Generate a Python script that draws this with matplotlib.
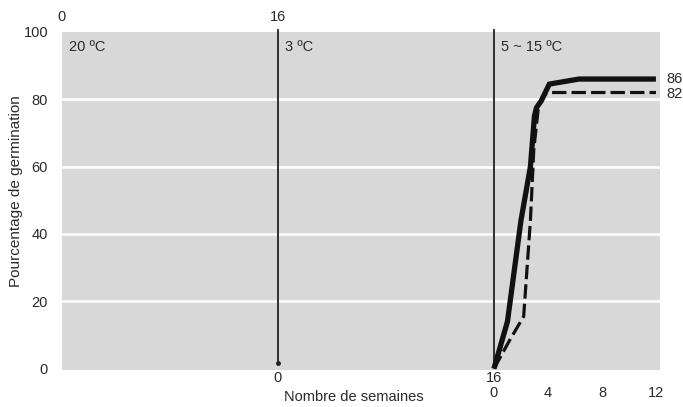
import matplotlib
matplotlib.use('Agg')
import matplotlib.pyplot as plt
import matplotlib.transforms as mtransforms

plt.rcParams['font.family'] = ['Liberation Sans', 'DejaVu Sans']

# phases (weeks): 20 C for 16 weeks, 3 C for 16 weeks, then 5~15 C
phase_starts = [0, 16, 32]
phase_labels = ['20 ºC', '3 ºC', '5 ~ 15 ºC']
top_ticks = [0, 16]
top_tick_labels = ['0', '16']
bottom_ticks = [16, 32]
bottom_tick_labels = ['0', '16']
last_ticks = [0, 4, 8, 12]

# germination in the last phase (weeks since start of phase)
solid_weeks = [0, 1.0, 2.0, 2.7, 3.0, 3.15, 3.5, 4.1, 6.3, 12]
solid_pct = [0, 14, 44, 60, 75, 77.5, 79.5, 84.5, 86, 86]
dashed_weeks = [0, 1.1, 2.2, 2.7, 2.95, 3.3, 3.9, 12]
dashed_pct = [0, 8, 15.5, 44, 65, 78, 82, 82]

yticks = [0, 20, 40, 60, 80, 100]

fs = 10.5
txt = '#2a2a2a'

fig = plt.figure(figsize=(6.83, 4.07), dpi=100)
ax = fig.add_axes([62 / 683, 1 - 370 / 407, (660 - 62) / 683, (370 - 31.9) / 407])
ax.set_facecolor('#d8d8d8')
ax.set_xlim(0, 44.3)
ax.set_ylim(-0.4, 100)
for s in ax.spines.values():
    s.set_visible(False)

for y in yticks[1:-1]:
    ax.axhline(y, color='white', lw=1.8, zorder=1)

for i, x0 in enumerate(phase_starts):
    if x0 > 0:
        ax.plot([x0, x0], [1.5, 100.5], color='#222222', lw=1.3, zorder=2, clip_on=False)
    ax.text(x0 + 0.5, 95.5, phase_labels[i], fontsize=fs, color=txt, va='center', ha='left')
ax.plot([16], [1.8], 'o', color='#222222', ms=2.5)

start = phase_starts[-1]
ax.plot([start + w for w in solid_weeks], solid_pct, color='#111111', lw=3.8,
        solid_joinstyle='miter', solid_capstyle='butt', zorder=4)
ax.plot([start + w for w in dashed_weeks], dashed_pct, color='#111111', lw=2.3,
        dashes=(4.5, 1.6), zorder=3)

ax.text(44.8, solid_pct[-1], str(solid_pct[-1]), fontsize=fs, color=txt, va='center', ha='left')
ax.text(44.8, dashed_pct[-1] - 0.5, str(dashed_pct[-1]), fontsize=fs, color=txt, va='center', ha='left')

ax.set_yticks(yticks)
ax.set_yticklabels([str(v) for v in yticks], fontsize=fs, color=txt)
ax.tick_params(axis='y', length=0, pad=10)
ax.set_xticks([])
ax.set_ylabel('Pourcentage de germination', fontsize=11, color=txt)
ax.yaxis.set_label_coords(-0.078 + 8 / 598, 0.53)

trans = mtransforms.blended_transform_factory(ax.transData, fig.transFigure)
for x, lab in zip(top_ticks, top_tick_labels):
    ax.text(x, 1 - 17 / 407, lab, transform=trans, fontsize=fs, color=txt, ha='center', va='center')
for x, lab in zip(bottom_ticks, bottom_tick_labels):
    ax.text(x, 1 - 378 / 407, lab, transform=trans, fontsize=fs, color=txt, ha='center', va='center')
for w in last_ticks:
    ax.text(start + w, 1 - 393 / 407, str(w), transform=trans, fontsize=fs, color=txt, ha='center', va='center')
ax.text(21.6, 1 - 397 / 407, 'Nombre de semaines', transform=trans, fontsize=fs, color=txt,
        ha='center', va='center')

fig.savefig('out.png', dpi=100)
